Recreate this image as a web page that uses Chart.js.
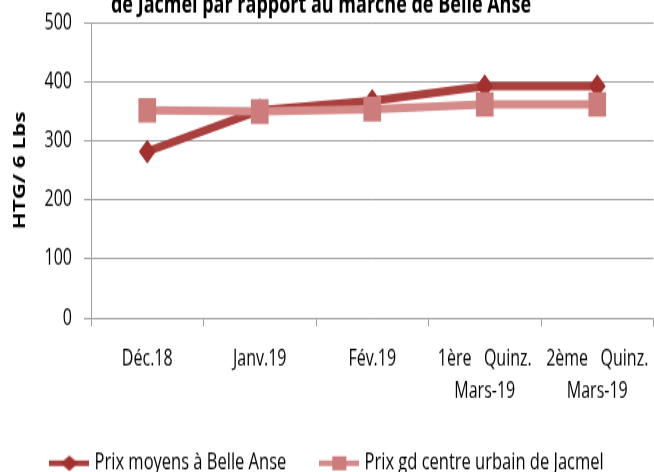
<!DOCTYPE html>
<html>
<head>
<meta charset="utf-8">
<script src="https://cdn.jsdelivr.net/npm/chart.js@4"></script>
<style>
  html, body { margin: 0; padding: 0; background: #fff; }
  #wrap { width: 654px; height: 472px; overflow: hidden; }
</style>
</head>
<body>
<div id="wrap">
  <!-- drawn on a shorter canvas and stretched to 472px, like the source picture;
       a few extra pixels on the right are clipped so the plot runs to the edge -->
  <canvas id="priceChart" width="666" height="337" style="width:666px;height:472px;display:block"></canvas>
</div>
<script>
// =======================================
// DATA
// =======================================
const categories = [
  "Déc.18",
  "Janv.19",
  "Fév.19",
  ["1ère   Quinz.", "Mars-19"],
  ["2ème   Quinz.", "Mars-19"],
];
const belleAnse = [282, 352, 368, 393, 393];
const jacmel = [352, 350, 354, 362, 362];
const seriesNames = ["Prix moyens à Belle Anse", "Prix gd centre urbain de Jacmel"];
const yTicks = [0, 100, 200, 300, 400, 500];
const titleLine = "de Jacmel par rapport au marché de Belle Anse";
const yTitle = "HTG/ 6 Lbs";

const fontFamily = "'Open Sans', 'Noto Sans', sans-serif";
const darkRed = "#a9403e";
const darkRedMarker = "#a3302e";
const pink = "#d48b89";
const pinkMarker = "#cc7c7a";

// =======================================
// LEGEND ICONS (line + marker)
// =======================================
function legendIcon(color, markerColor, style) {
  const c = document.createElement("canvas");
  c.width = 40;
  c.height = 18;
  const ctx = c.getContext("2d");
  ctx.strokeStyle = color;
  ctx.lineWidth = 3.8;
  ctx.beginPath();
  ctx.moveTo(0, 9);
  ctx.lineTo(40, 9);
  ctx.stroke();
  ctx.fillStyle = markerColor;
  ctx.beginPath();
  if (style === "diamond") {
    ctx.moveTo(20, 3.5);
    ctx.lineTo(29, 9);
    ctx.lineTo(20, 14.5);
    ctx.lineTo(11, 9);
  } else {
    ctx.rect(13, 4, 14, 10);
  }
  ctx.closePath();
  ctx.fill();
  return c;
}

// =======================================
// TITLE (only the visible second line)
// =======================================
const titlePlugin = {
  id: "cutTitle",
  afterDraw(chart) {
    const ctx = chart.ctx;
    ctx.save();
    ctx.font = "bold 18px " + fontFamily;
    ctx.fillStyle = "#000";
    ctx.textAlign = "center";
    ctx.textBaseline = "alphabetic";
    ctx.fillText(titleLine, 321, 9, 434);
    ctx.restore();
  },
};

// =======================================
// CHART
// =======================================
const icons = [
  legendIcon(darkRed, darkRedMarker, "diamond"),
  legendIcon(pink, pinkMarker, "square"),
];

new Chart(document.getElementById("priceChart").getContext("2d"), {
  type: "line",
  data: {
    labels: categories,
    datasets: [
      {
        label: seriesNames[0],
        data: belleAnse,
        borderColor: darkRed,
        backgroundColor: darkRed,
        borderWidth: 6,
        pointStyle: "rectRot",
        pointRadius: 8.5,
        pointBorderWidth: 0,
        pointBackgroundColor: darkRedMarker,
        order: 1,
      },
      {
        label: seriesNames[1],
        data: jacmel,
        borderColor: pink,
        backgroundColor: pink,
        borderWidth: 6,
        pointStyle: "rect",
        pointRadius: 12.5,
        pointBorderWidth: 0,
        pointBackgroundColor: pinkMarker,
        order: 0,
      },
    ],
  },
  options: {
    responsive: false,
    animation: false,
    layout: { padding: { top: 16.4, right: 10, left: 0, bottom: -12 } },
    plugins: {
      tooltip: { enabled: false },
      legend: {
        position: "bottom",
        labels: {
          font: { family: fontFamily, size: 16.5 },
          color: "#000",
          padding: 36,
          usePointStyle: true,
          pointStyleWidth: 34,
          sort: (a, b) => a.datasetIndex - b.datasetIndex,
          generateLabels: (chart) =>
            chart.data.datasets.map((ds, i) => ({
              text: ds.label,
              pointStyle: icons[i],
              fillStyle: ds.borderColor,
              strokeStyle: ds.borderColor,
              lineWidth: 0,
              datasetIndex: i,
              fontColor: "#000",
            })),
        },
      },
    },
    scales: {
      x: {
        offset: true,
        grid: {
          offset: true,
          drawOnChartArea: false,
          drawTicks: true,
          tickLength: 6,
          color: "#a0a0a0",
        },
        border: { color: "#a0a0a0" },
        ticks: {
          font: { family: fontFamily, size: 16, lineHeight: 1.43 },
          color: "#000",
          padding: 12,
          maxRotation: 0,
          autoSkip: false,
        },
        afterFit: (scale) => {
          scale.height = 59.5;
          scale.paddingLeft = 0;
          scale.paddingRight = 0;
        },
      },
      y: {
        min: 0,
        max: 500,
        afterBuildTicks: (scale) => {
          scale.ticks = yTicks.map((v) => ({ value: v }));
        },
        grid: { color: "#a0a0a0", tickLength: 7 },
        border: { color: "#a0a0a0" },
        ticks: {
          font: { family: fontFamily, size: 16 },
          color: "#000",
          padding: 12,
        },
        title: {
          display: true,
          text: yTitle,
          font: { family: fontFamily, size: 16, weight: "bold" },
          color: "#000",
          padding: { top: 11, bottom: 0 },
        },
        afterFit: (scale) => {
          scale.width = 91;
          scale.paddingTop = 0;
          scale.paddingBottom = 0;
        },
      },
    },
  },
  plugins: [titlePlugin],
});
</script>
</body>
</html>
